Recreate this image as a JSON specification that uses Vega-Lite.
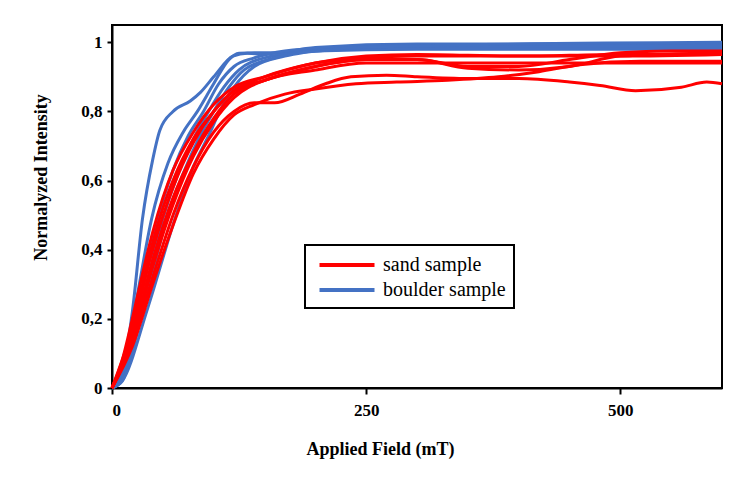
{
  "$schema": "https://vega.github.io/schema/vega-lite/v6.json",
  "width": 610,
  "height": 363,
  "autosize": {"type": "none"},
  "padding": {"left": 112, "top": 25, "right": 28, "bottom": 99},
  "background": "white",
  "config": {
    "view": {"stroke": "black", "strokeWidth": 2},
    "font": "Liberation Serif"
  },
  "datasets": {
    "boulder": [
      {"s": "B1", "type": "boulder sample", "x": 0, "y": 0},
      {"s": "B1", "type": "boulder sample", "x": 10, "y": 0.05},
      {"s": "B1", "type": "boulder sample", "x": 20, "y": 0.22},
      {"s": "B1", "type": "boulder sample", "x": 30, "y": 0.49},
      {"s": "B1", "type": "boulder sample", "x": 40, "y": 0.66},
      {"s": "B1", "type": "boulder sample", "x": 47, "y": 0.745},
      {"s": "B1", "type": "boulder sample", "x": 60, "y": 0.8},
      {"s": "B1", "type": "boulder sample", "x": 77, "y": 0.83},
      {"s": "B1", "type": "boulder sample", "x": 87, "y": 0.855},
      {"s": "B1", "type": "boulder sample", "x": 100, "y": 0.9},
      {"s": "B1", "type": "boulder sample", "x": 119, "y": 0.96},
      {"s": "B1", "type": "boulder sample", "x": 133, "y": 0.968},
      {"s": "B1", "type": "boulder sample", "x": 150, "y": 0.966},
      {"s": "B1", "type": "boulder sample", "x": 200, "y": 0.985},
      {"s": "B1", "type": "boulder sample", "x": 300, "y": 0.995},
      {"s": "B1", "type": "boulder sample", "x": 600, "y": 0.995},
      {"s": "B2", "type": "boulder sample", "x": 0, "y": 0},
      {"s": "B2", "type": "boulder sample", "x": 10, "y": 0.04},
      {"s": "B2", "type": "boulder sample", "x": 25, "y": 0.27},
      {"s": "B2", "type": "boulder sample", "x": 39, "y": 0.49},
      {"s": "B2", "type": "boulder sample", "x": 55, "y": 0.65},
      {"s": "B2", "type": "boulder sample", "x": 70, "y": 0.74},
      {"s": "B2", "type": "boulder sample", "x": 84, "y": 0.8},
      {"s": "B2", "type": "boulder sample", "x": 100, "y": 0.88},
      {"s": "B2", "type": "boulder sample", "x": 115, "y": 0.95},
      {"s": "B2", "type": "boulder sample", "x": 125, "y": 0.968},
      {"s": "B2", "type": "boulder sample", "x": 140, "y": 0.97},
      {"s": "B2", "type": "boulder sample", "x": 160, "y": 0.97},
      {"s": "B2", "type": "boulder sample", "x": 200, "y": 0.98},
      {"s": "B2", "type": "boulder sample", "x": 300, "y": 0.99},
      {"s": "B2", "type": "boulder sample", "x": 600, "y": 0.995},
      {"s": "B3", "type": "boulder sample", "x": 0, "y": 0},
      {"s": "B3", "type": "boulder sample", "x": 10, "y": 0.03},
      {"s": "B3", "type": "boulder sample", "x": 25, "y": 0.23},
      {"s": "B3", "type": "boulder sample", "x": 45, "y": 0.49},
      {"s": "B3", "type": "boulder sample", "x": 60, "y": 0.63},
      {"s": "B3", "type": "boulder sample", "x": 75, "y": 0.73},
      {"s": "B3", "type": "boulder sample", "x": 90, "y": 0.8},
      {"s": "B3", "type": "boulder sample", "x": 105, "y": 0.88},
      {"s": "B3", "type": "boulder sample", "x": 120, "y": 0.93},
      {"s": "B3", "type": "boulder sample", "x": 140, "y": 0.955},
      {"s": "B3", "type": "boulder sample", "x": 170, "y": 0.975},
      {"s": "B3", "type": "boulder sample", "x": 220, "y": 0.985},
      {"s": "B3", "type": "boulder sample", "x": 300, "y": 0.99},
      {"s": "B3", "type": "boulder sample", "x": 600, "y": 0.99},
      {"s": "B4", "type": "boulder sample", "x": 0, "y": 0},
      {"s": "B4", "type": "boulder sample", "x": 10, "y": 0.03},
      {"s": "B4", "type": "boulder sample", "x": 30, "y": 0.25},
      {"s": "B4", "type": "boulder sample", "x": 50, "y": 0.49},
      {"s": "B4", "type": "boulder sample", "x": 65, "y": 0.62},
      {"s": "B4", "type": "boulder sample", "x": 80, "y": 0.72},
      {"s": "B4", "type": "boulder sample", "x": 95, "y": 0.8},
      {"s": "B4", "type": "boulder sample", "x": 110, "y": 0.87},
      {"s": "B4", "type": "boulder sample", "x": 125, "y": 0.92},
      {"s": "B4", "type": "boulder sample", "x": 150, "y": 0.955},
      {"s": "B4", "type": "boulder sample", "x": 200, "y": 0.975},
      {"s": "B4", "type": "boulder sample", "x": 300, "y": 0.985},
      {"s": "B4", "type": "boulder sample", "x": 600, "y": 0.985},
      {"s": "B5", "type": "boulder sample", "x": 0, "y": 0},
      {"s": "B5", "type": "boulder sample", "x": 10, "y": 0.02},
      {"s": "B5", "type": "boulder sample", "x": 30, "y": 0.22},
      {"s": "B5", "type": "boulder sample", "x": 54, "y": 0.49},
      {"s": "B5", "type": "boulder sample", "x": 70, "y": 0.62},
      {"s": "B5", "type": "boulder sample", "x": 85, "y": 0.72},
      {"s": "B5", "type": "boulder sample", "x": 100, "y": 0.8},
      {"s": "B5", "type": "boulder sample", "x": 115, "y": 0.87},
      {"s": "B5", "type": "boulder sample", "x": 130, "y": 0.92},
      {"s": "B5", "type": "boulder sample", "x": 160, "y": 0.955},
      {"s": "B5", "type": "boulder sample", "x": 200, "y": 0.975},
      {"s": "B5", "type": "boulder sample", "x": 300, "y": 0.98},
      {"s": "B5", "type": "boulder sample", "x": 600, "y": 0.98},
      {"s": "B6", "type": "boulder sample", "x": 0, "y": 0},
      {"s": "B6", "type": "boulder sample", "x": 10, "y": 0.02},
      {"s": "B6", "type": "boulder sample", "x": 35, "y": 0.23},
      {"s": "B6", "type": "boulder sample", "x": 62, "y": 0.49},
      {"s": "B6", "type": "boulder sample", "x": 80, "y": 0.64},
      {"s": "B6", "type": "boulder sample", "x": 95, "y": 0.73},
      {"s": "B6", "type": "boulder sample", "x": 106, "y": 0.8},
      {"s": "B6", "type": "boulder sample", "x": 120, "y": 0.87},
      {"s": "B6", "type": "boulder sample", "x": 140, "y": 0.93},
      {"s": "B6", "type": "boulder sample", "x": 170, "y": 0.96},
      {"s": "B6", "type": "boulder sample", "x": 220, "y": 0.98},
      {"s": "B6", "type": "boulder sample", "x": 300, "y": 0.99},
      {"s": "B6", "type": "boulder sample", "x": 600, "y": 1.0}
    ],
    "sand": [
      {"s": "R1", "type": "sand sample", "x": 0, "y": 0},
      {"s": "R1", "type": "sand sample", "x": 10, "y": 0.08},
      {"s": "R1", "type": "sand sample", "x": 20, "y": 0.2},
      {"s": "R1", "type": "sand sample", "x": 30, "y": 0.33},
      {"s": "R1", "type": "sand sample", "x": 40, "y": 0.45},
      {"s": "R1", "type": "sand sample", "x": 50, "y": 0.55},
      {"s": "R1", "type": "sand sample", "x": 60, "y": 0.63},
      {"s": "R1", "type": "sand sample", "x": 80, "y": 0.74},
      {"s": "R1", "type": "sand sample", "x": 100, "y": 0.82},
      {"s": "R1", "type": "sand sample", "x": 120, "y": 0.87},
      {"s": "R1", "type": "sand sample", "x": 150, "y": 0.9},
      {"s": "R1", "type": "sand sample", "x": 200, "y": 0.94},
      {"s": "R1", "type": "sand sample", "x": 250, "y": 0.955},
      {"s": "R1", "type": "sand sample", "x": 300, "y": 0.96},
      {"s": "R1", "type": "sand sample", "x": 400, "y": 0.96},
      {"s": "R1", "type": "sand sample", "x": 500, "y": 0.96},
      {"s": "R1", "type": "sand sample", "x": 600, "y": 0.965},
      {"s": "R2", "type": "sand sample", "x": 0, "y": 0},
      {"s": "R2", "type": "sand sample", "x": 10, "y": 0.07},
      {"s": "R2", "type": "sand sample", "x": 20, "y": 0.18},
      {"s": "R2", "type": "sand sample", "x": 30, "y": 0.3},
      {"s": "R2", "type": "sand sample", "x": 40, "y": 0.42},
      {"s": "R2", "type": "sand sample", "x": 50, "y": 0.52},
      {"s": "R2", "type": "sand sample", "x": 60, "y": 0.6},
      {"s": "R2", "type": "sand sample", "x": 80, "y": 0.72},
      {"s": "R2", "type": "sand sample", "x": 100, "y": 0.8},
      {"s": "R2", "type": "sand sample", "x": 120, "y": 0.86},
      {"s": "R2", "type": "sand sample", "x": 150, "y": 0.89},
      {"s": "R2", "type": "sand sample", "x": 200, "y": 0.93},
      {"s": "R2", "type": "sand sample", "x": 250, "y": 0.95},
      {"s": "R2", "type": "sand sample", "x": 300, "y": 0.95},
      {"s": "R2", "type": "sand sample", "x": 350, "y": 0.93},
      {"s": "R2", "type": "sand sample", "x": 400, "y": 0.93},
      {"s": "R2", "type": "sand sample", "x": 450, "y": 0.95},
      {"s": "R2", "type": "sand sample", "x": 500, "y": 0.97},
      {"s": "R2", "type": "sand sample", "x": 550, "y": 0.975},
      {"s": "R2", "type": "sand sample", "x": 600, "y": 0.975},
      {"s": "R3", "type": "sand sample", "x": 0, "y": 0},
      {"s": "R3", "type": "sand sample", "x": 20, "y": 0.15},
      {"s": "R3", "type": "sand sample", "x": 40, "y": 0.37},
      {"s": "R3", "type": "sand sample", "x": 60, "y": 0.55},
      {"s": "R3", "type": "sand sample", "x": 80, "y": 0.68},
      {"s": "R3", "type": "sand sample", "x": 100, "y": 0.78},
      {"s": "R3", "type": "sand sample", "x": 120, "y": 0.85},
      {"s": "R3", "type": "sand sample", "x": 150, "y": 0.89},
      {"s": "R3", "type": "sand sample", "x": 200, "y": 0.93},
      {"s": "R3", "type": "sand sample", "x": 250, "y": 0.95},
      {"s": "R3", "type": "sand sample", "x": 300, "y": 0.95},
      {"s": "R3", "type": "sand sample", "x": 350, "y": 0.925},
      {"s": "R3", "type": "sand sample", "x": 400, "y": 0.92},
      {"s": "R3", "type": "sand sample", "x": 450, "y": 0.93},
      {"s": "R3", "type": "sand sample", "x": 500, "y": 0.96},
      {"s": "R3", "type": "sand sample", "x": 600, "y": 0.97},
      {"s": "R4", "type": "sand sample", "x": 0, "y": 0},
      {"s": "R4", "type": "sand sample", "x": 20, "y": 0.13},
      {"s": "R4", "type": "sand sample", "x": 40, "y": 0.32},
      {"s": "R4", "type": "sand sample", "x": 60, "y": 0.5},
      {"s": "R4", "type": "sand sample", "x": 80, "y": 0.64},
      {"s": "R4", "type": "sand sample", "x": 100, "y": 0.74},
      {"s": "R4", "type": "sand sample", "x": 120, "y": 0.8},
      {"s": "R4", "type": "sand sample", "x": 140, "y": 0.825},
      {"s": "R4", "type": "sand sample", "x": 160, "y": 0.825},
      {"s": "R4", "type": "sand sample", "x": 185, "y": 0.85},
      {"s": "R4", "type": "sand sample", "x": 210, "y": 0.88},
      {"s": "R4", "type": "sand sample", "x": 235, "y": 0.9},
      {"s": "R4", "type": "sand sample", "x": 270, "y": 0.905},
      {"s": "R4", "type": "sand sample", "x": 300, "y": 0.9},
      {"s": "R4", "type": "sand sample", "x": 350, "y": 0.895},
      {"s": "R4", "type": "sand sample", "x": 400, "y": 0.895},
      {"s": "R4", "type": "sand sample", "x": 450, "y": 0.885},
      {"s": "R4", "type": "sand sample", "x": 480, "y": 0.875},
      {"s": "R4", "type": "sand sample", "x": 515, "y": 0.86},
      {"s": "R4", "type": "sand sample", "x": 560, "y": 0.87},
      {"s": "R4", "type": "sand sample", "x": 585, "y": 0.885},
      {"s": "R4", "type": "sand sample", "x": 600, "y": 0.88},
      {"s": "R5", "type": "sand sample", "x": 0, "y": 0},
      {"s": "R5", "type": "sand sample", "x": 20, "y": 0.12},
      {"s": "R5", "type": "sand sample", "x": 40, "y": 0.3},
      {"s": "R5", "type": "sand sample", "x": 60, "y": 0.47},
      {"s": "R5", "type": "sand sample", "x": 80, "y": 0.62},
      {"s": "R5", "type": "sand sample", "x": 100, "y": 0.72},
      {"s": "R5", "type": "sand sample", "x": 120, "y": 0.79},
      {"s": "R5", "type": "sand sample", "x": 140, "y": 0.82},
      {"s": "R5", "type": "sand sample", "x": 170, "y": 0.85},
      {"s": "R5", "type": "sand sample", "x": 200, "y": 0.865},
      {"s": "R5", "type": "sand sample", "x": 240, "y": 0.88},
      {"s": "R5", "type": "sand sample", "x": 280, "y": 0.885},
      {"s": "R5", "type": "sand sample", "x": 330, "y": 0.89},
      {"s": "R5", "type": "sand sample", "x": 380, "y": 0.9},
      {"s": "R5", "type": "sand sample", "x": 420, "y": 0.915},
      {"s": "R5", "type": "sand sample", "x": 460, "y": 0.935},
      {"s": "R5", "type": "sand sample", "x": 520, "y": 0.945},
      {"s": "R5", "type": "sand sample", "x": 600, "y": 0.945},
      {"s": "R6", "type": "sand sample", "x": 0, "y": 0},
      {"s": "R6", "type": "sand sample", "x": 20, "y": 0.17},
      {"s": "R6", "type": "sand sample", "x": 40, "y": 0.4},
      {"s": "R6", "type": "sand sample", "x": 60, "y": 0.58},
      {"s": "R6", "type": "sand sample", "x": 80, "y": 0.71},
      {"s": "R6", "type": "sand sample", "x": 100, "y": 0.8},
      {"s": "R6", "type": "sand sample", "x": 120, "y": 0.86},
      {"s": "R6", "type": "sand sample", "x": 150, "y": 0.9},
      {"s": "R6", "type": "sand sample", "x": 200, "y": 0.94},
      {"s": "R6", "type": "sand sample", "x": 250, "y": 0.96},
      {"s": "R6", "type": "sand sample", "x": 300, "y": 0.965},
      {"s": "R6", "type": "sand sample", "x": 400, "y": 0.96},
      {"s": "R6", "type": "sand sample", "x": 500, "y": 0.965},
      {"s": "R6", "type": "sand sample", "x": 600, "y": 0.965},
      {"s": "R7", "type": "sand sample", "x": 0, "y": 0},
      {"s": "R7", "type": "sand sample", "x": 20, "y": 0.14},
      {"s": "R7", "type": "sand sample", "x": 40, "y": 0.35},
      {"s": "R7", "type": "sand sample", "x": 60, "y": 0.53},
      {"s": "R7", "type": "sand sample", "x": 80, "y": 0.67},
      {"s": "R7", "type": "sand sample", "x": 100, "y": 0.77},
      {"s": "R7", "type": "sand sample", "x": 120, "y": 0.84},
      {"s": "R7", "type": "sand sample", "x": 150, "y": 0.89},
      {"s": "R7", "type": "sand sample", "x": 200, "y": 0.92},
      {"s": "R7", "type": "sand sample", "x": 250, "y": 0.94},
      {"s": "R7", "type": "sand sample", "x": 300, "y": 0.94},
      {"s": "R7", "type": "sand sample", "x": 400, "y": 0.94},
      {"s": "R7", "type": "sand sample", "x": 500, "y": 0.94},
      {"s": "R7", "type": "sand sample", "x": 600, "y": 0.94}
    ]
  },
  "encoding": {
    "x": {
      "field": "x", "type": "quantitative",
      "scale": {"domain": [0, 600], "nice": false},
      "axis": {
        "title": "Applied Field (mT)",
        "values": [0, 250, 500],
        "grid": false,
        "domainColor": "black", "domainWidth": 2,
        "tickColor": "black", "tickWidth": 2, "tickSize": 6,
        "labelFont": "Liberation Serif", "labelFontSize": 17, "labelFontWeight": "bold", "labelColor": "black",
        "labelPadding": 8,
        "titleFont": "Liberation Serif", "titleFontSize": 18, "titleFontWeight": "bold", "titleColor": "black",
        "titleX": 268,
        "titleY": 66,
        "titleBaseline": "alphabetic",
        "titleAlign": "center"
      }
    },
    "y": {
      "field": "y", "type": "quantitative",
      "scale": {"domain": [0, 1.05], "nice": false},
      "axis": {
        "title": "Normalyzed Intensity",
        "values": [0, 0.2, 0.4, 0.6, 0.8, 1],
        "labelExpr": "replace(format(datum.value, '.1~f'), '.', ',')",
        "grid": false,
        "domainColor": "black", "domainWidth": 2,
        "tickColor": "black", "tickWidth": 2, "tickSize": 5,
        "labelFont": "Liberation Serif", "labelFontSize": 17, "labelFontWeight": "bold", "labelColor": "black",
        "labelPadding": 5,
        "titleFont": "Liberation Serif", "titleFontSize": 18, "titleFontWeight": "bold", "titleColor": "black",
        "titleX": -66,
        "titleY": 152,
        "titleAngle": -90,
        "titleAlign": "center",
        "titleBaseline": "alphabetic"
      }
    },
    "color": {
      "field": "type", "type": "nominal",
      "scale": {"domain": ["sand sample", "boulder sample"], "range": ["#FF0000", "#4472C4"]},
      "legend": {
        "title": null,
        "orient": "none",
        "legendX": 193,
        "legendY": 220,
        "strokeColor": "black",
        "fillColor": "white",
        "padding": 8,
        "symbolType": "M-2.75,0H2.75",
        "symbolStrokeWidth": 4,
        "symbolSize": 400,
        "symbolOffset": 22,
        "labelFont": "Liberation Serif",
        "labelFontSize": 20,
        "labelColor": "black",
        "labelOffset": 24,
        "rowPadding": 3,
        "labelLimit": 300,
        "encode": {"legend": {"update": {"strokeWidth": {"value": 2}}}}
      }
    },
    "detail": {"field": "s", "type": "nominal"}
  },
  "layer": [
    {"data": {"name": "boulder"}, "mark": {"type": "line", "interpolate": "monotone", "strokeWidth": 3}},
    {"data": {"name": "sand"}, "mark": {"type": "line", "interpolate": "monotone", "strokeWidth": 3}}
  ]
}
